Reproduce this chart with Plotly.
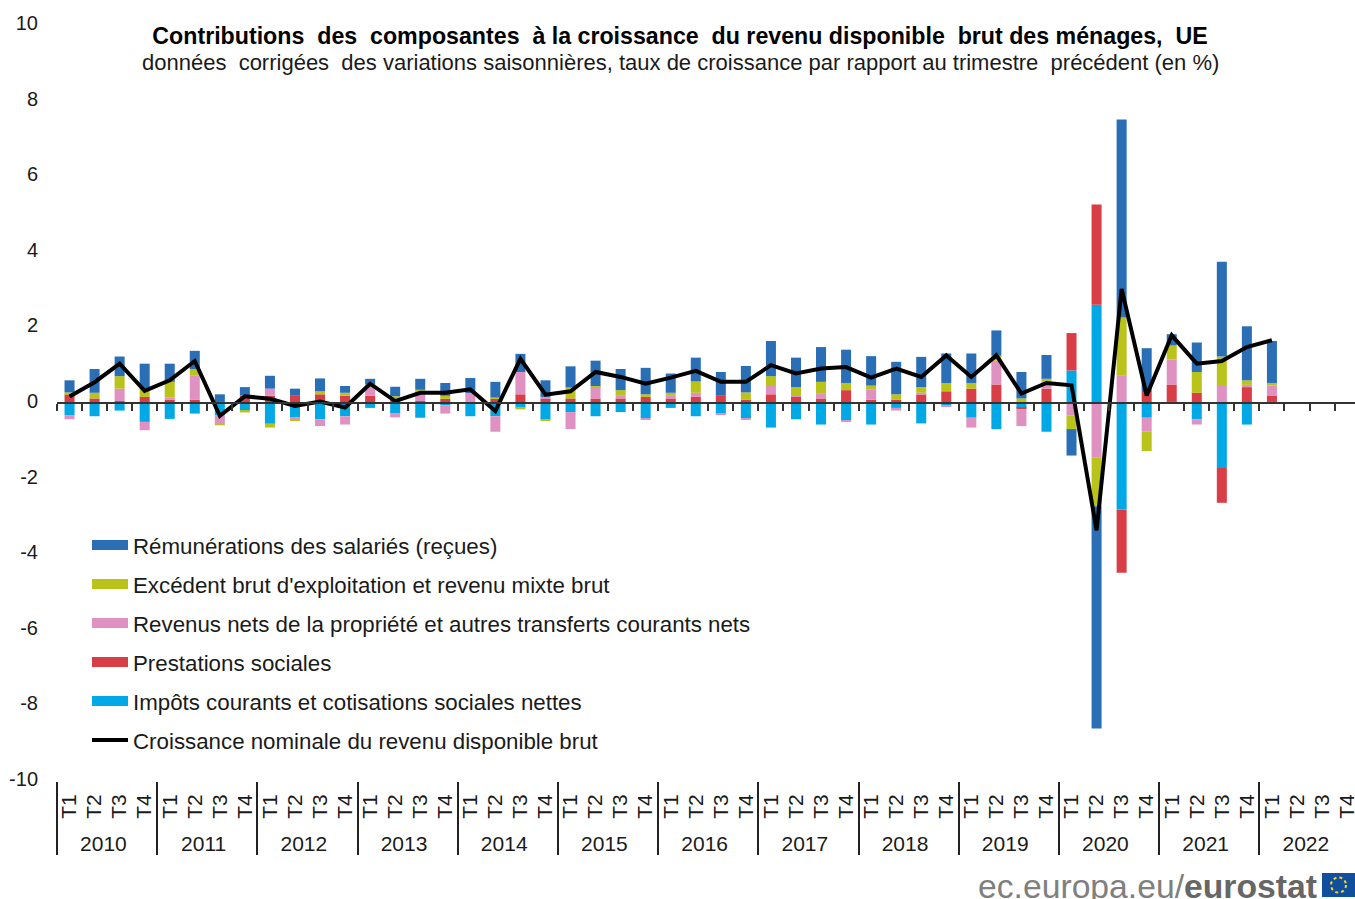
import plotly.graph_objects as go

years = [str(y) for y in range(2010, 2023)]
quarters = ["T1", "T2", "T3", "T4"]
x_years = [y for y in years for _ in quarters]
x_quarters = [q for _ in years for q in quarters]

remuneration = [0.32,0.63,0.52,0.66,0.48,0.48,0.18,0.22,0.34,0.19,0.34,0.18,0.15,
 0.25,0.29,0.34,0.40,0.41,0.48,0.44,0.56,0.67,0.56,0.70,0.51,0.63,
 0.63,0.70,0.93,0.78,0.92,0.88,0.78,0.86,0.80,0.78,0.78,0.67,0.70,0.63,
 -0.70,-5.88,5.24,1.16,0.30,0.78,2.51,1.43,1.11,None,None,None]
excedent = [0.05,0.15,0.33,0.22,0.41,0.18,-0.04,-0.04,-0.10,-0.03,0.08,0.08,0.05,
 0.08,0.04,0.08,0.00,0.04,-0.04,-0.04,0.29,0.03,0.15,0.07,0.08,0.30,
 0.00,0.19,0.26,0.23,0.30,0.19,0.11,0.14,0.15,0.22,0.15,0.13,0.12,0.08,
 -0.36,-1.28,1.54,-0.51,0.37,0.55,0.78,0.12,0.07,None,None,None]
revenus = [-0.10,0.00,0.33,-0.22,0.06,0.63,-0.22,0.00,0.19,-0.05,-0.18,-0.22,0.25,
 -0.10,0.26,-0.22,0.26,-0.41,0.59,0.04,-0.45,0.30,0.07,-0.04,0.07,0.11,
 -0.04,-0.04,0.22,0.03,0.14,-0.03,0.26,-0.07,0.04,-0.04,-0.26,0.63,-0.44,0.18,
 -0.33,-1.45,0.72,-0.37,0.66,-0.14,0.45,0.06,0.26,None,None,None]
prestations = [0.23,0.12,0.05,0.16,0.09,0.09,0.05,0.20,0.19,0.19,0.23,0.19,0.19,
 0.10,0.05,0.11,0.00,0.11,0.23,0.12,0.12,0.12,0.12,0.16,0.12,0.16,
 0.19,0.09,0.23,0.16,0.12,0.34,0.09,0.09,0.23,0.31,0.38,0.49,-0.04,0.38,
 0.99,2.65,-1.67,0.29,0.44,0.27,-0.92,0.42,0.16,None,None,None]
impots = [-0.33,-0.35,-0.20,-0.50,-0.42,-0.28,-0.33,-0.21,-0.55,-0.39,-0.43,-0.35,-0.13,
 -0.28,-0.39,-0.06,-0.35,-0.35,-0.13,-0.43,-0.24,-0.35,-0.24,-0.40,-0.13,-0.35,
 -0.28,-0.40,-0.65,-0.43,-0.57,-0.47,-0.57,-0.13,-0.54,-0.06,-0.39,-0.69,-0.13,-0.76,
 0.86,2.60,-2.82,-0.39,0.05,-0.43,-1.72,-0.57,0.04,None,None,None]
croissance = [0.17,0.55,1.04,0.32,0.60,1.11,-0.34,0.18,0.11,-0.08,0.04,-0.12,0.51,
 0.05,0.27,0.27,0.36,-0.21,1.17,0.22,0.31,0.82,0.69,0.51,0.67,0.85,
 0.56,0.56,1.00,0.78,0.91,0.95,0.67,0.91,0.69,1.26,0.69,1.26,0.25,0.53,
 0.47,-3.37,3.02,0.20,1.79,1.04,1.11,1.48,1.66,None,None,None]
y_ticks = list(range(-10, 11, 2))

BLUE, OLIVE, PINK, RED, CYAN, BLACK = "#2a6fb6", "#b9c31a", "#df92c2", "#d93d45", "#00a8e6", "#000000"
labels = ["Rémunérations des salariés (reçues)",
          "Excédent brut d'exploitation et revenu mixte brut",
          "Revenus nets de la propriété et autres transferts courants nets",
          "Prestations sociales",
          "Impôts courants et cotisations sociales nettes",
          "Croissance nominale du revenu disponible brut"]

W, H, L, T, B = 1355, 899, 57, 25, 118
FONT = "Liberation Sans"
TXT = "#1a1a1a"
S = "\u00a0"
def px(x): return (x - L) / (W - L)
def py(y): return (H - B - y) / (H - B - T)
xr = [-0.5, (W - L) / 25.05 - 0.5]

fig = go.Figure()
x = [x_years, x_quarters]
for i, col in enumerate([BLUE, OLIVE, PINK, RED, CYAN]):
    fig.add_trace(go.Scatter(x=[None], y=[None], mode="lines", name=labels[i], legendgroup=f"g{i}",
                             line=dict(color=col, width=10), xaxis="x2", hoverinfo="skip"))
for name, vals, col in [(labels[4], impots, CYAN), (labels[3], prestations, RED), (labels[2], revenus, PINK),
                        (labels[1], excedent, OLIVE), (labels[0], remuneration, BLUE)]:
    fig.add_trace(go.Bar(x=x, y=vals, name=name, marker=dict(color=col, line=dict(width=0)), showlegend=False, width=0.4))
fig.add_trace(go.Scatter(x=x, y=croissance, mode="lines", name=labels[5], legendgroup="g5",
                         line=dict(color=BLACK, width=4)))

title = f"Contributions {S}des {S}composantes {S}à la croissance {S}du revenu disponible {S}brut des ménages, {S}UE"
subtitle = (f"données {S}corrigées {S}des variations saisonnières, taux de croissance par rapport au trimestre {S}précédent (en %)")
annots = [dict(text=subtitle,
               x=px(680.5), y=py(62), xref="paper", yref="paper", xanchor="center", yanchor="middle", showarrow=False,
               font=dict(family=FONT, size=22, color=TXT)),
          dict(text="<span style='color:#7f7f7f'>ec.europa.eu/</span><b style='color:#666666'>eurostat</b>",
               x=px(1319), y=py(886), xref="paper", yref="paper", xanchor="right", yanchor="middle", showarrow=False,
               font=dict(family=FONT, size=33.7))]
fig.update_layout(
    width=W, height=H, margin=dict(l=L, r=0, t=T, b=B), paper_bgcolor="white", plot_bgcolor="white",
    barmode="relative", bargap=0.6, font=dict(family=FONT, size=20, color=TXT),
    title=dict(text=f"<b>{title}</b>",
               x=680 / W, xanchor="center", y=1 - 36 / H, yanchor="middle", yref="container",
               font=dict(family=FONT, size=23.2, color="#000000")),
    yaxis=dict(range=[-10, 10], tickmode="array", tickvals=y_ticks, ticktext=[str(v) for v in y_ticks],
               showgrid=False, zeroline=False, ticks="", ticklabelstandoff=18, ticklabelshift=-2, showline=False,
               tickfont=dict(size=20)),
    xaxis=dict(type="multicategory", range=xr, showgrid=False, ticks="", showline=False, tickangle=-90,
               ticklabelstandoff=8, tickfont=dict(size=21), showdividers=True, dividercolor="#222222", dividerwidth=1.5),
    xaxis2=dict(overlaying="x", anchor="free", position=0.5, range=xr, tick0=-0.5, dtick=1, ticks="outside", ticklen=7,
                tickwidth=1.5, tickcolor="#333333", showline=True, linecolor="#333333", linewidth=1.5,
                showticklabels=False, showgrid=False, zeroline=False),
    xaxis3=dict(overlaying="x", anchor="free", position=0, range=xr, tick0=-0.5, dtick=1, ticks="outside", ticklen=38,
                tickwidth=1.5, tickcolor="#333333", showline=False, showticklabels=False, showgrid=False, zeroline=False),
    legend=dict(x=px(87), y=py(524), xanchor="left", yanchor="top", bgcolor="rgba(0,0,0,0)", itemwidth=36,
                tracegroupgap=7, traceorder="grouped", font=dict(family=FONT, size=22.3, color=TXT)),
    annotations=annots,
    shapes=[dict(type="rect", xref="paper", yref="paper", x0=px(1322), x1=px(1355), y0=py(897), y1=py(873),
                 fillcolor="#104f9e", line=dict(width=0)),
            dict(type="circle", xref="paper", yref="paper", x0=px(1331), x1=px(1346), y0=py(892.5), y1=py(877.5),
                 fillcolor="rgba(0,0,0,0)", line=dict(color="#ffd617", width=2, dash="dot"))],
)
fig.write_html("out.html", config=dict(displayModeBar=False), post_script="document.body.style.margin='0';")
